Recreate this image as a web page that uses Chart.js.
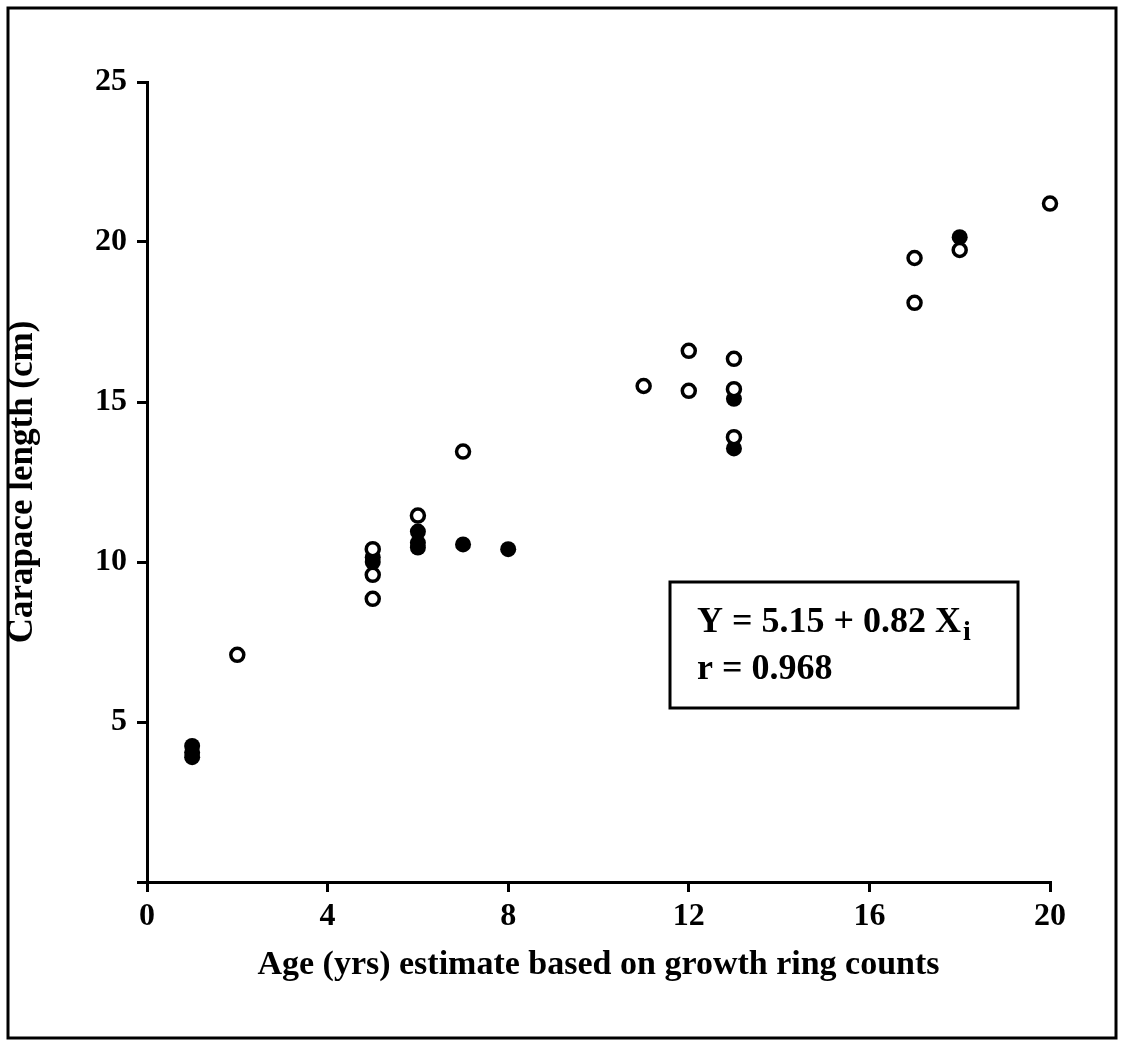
<!DOCTYPE html>
<html>
<head>
<meta charset="utf-8">
<title>Carapace length vs age</title>
<script src="https://cdn.jsdelivr.net/npm/chart.js@4.4.0/dist/chart.umd.min.js"></script>
<style>
    html, body { margin: 0; padding: 0; background: #fff; }
    #wrap { width: 1123px; height: 1046px; position: relative; }
</style>
</head>
<body>
<div id="wrap"><canvas id="chart-edad"></canvas></div>
<script>
// Datos (edad en años, largo del caparazón en cm)
const edadAbiertos = [2, 5, 5, 5, 6, 7, 11, 12, 12, 13, 13, 13, 17, 17, 18, 20];
const largoAbiertos = [7.1, 10.4, 9.6, 8.85, 11.45, 13.45, 15.5, 16.6, 15.35, 16.35, 15.4, 13.9, 19.5, 18.1, 19.75, 21.2];

const edadRellenos = [1, 1, 1, 5, 5, 6, 6, 6, 7, 8, 13, 13, 18];
const largoRellenos = [4.25, 4.05, 3.9, 10.15, 10.0, 10.95, 10.6, 10.45, 10.55, 10.4, 15.1, 13.55, 20.15];

const ticksX = [0, 4, 8, 12, 16, 20];
const ticksY = [0, 5, 10, 15, 20, 25];

const tituloX = 'Age (yrs) estimate based on growth ring counts';
const tituloY = 'Carapace length (cm)';
const ecuacion = 'Y = 5.15 + 0.82 X';
const coefR = 'r = 0.968';

const fuente = '"Liberation Serif", "DejaVu Serif", serif';

function aPuntos(xs, ys) {
    return xs.map((x, i) => ({ x: x, y: ys[i] }));
}

/**
 * Marco exterior y recuadro con la ecuación
 */
const marcoPlugin = {
    id: 'marco',
    afterDraw(chart) {
        const ctx = chart.ctx;
        ctx.save();
        ctx.strokeStyle = '#000';
        ctx.lineWidth = 3;
        ctx.strokeRect(8, 8, 1108, 1030);

        // recuadro de la ecuación
        ctx.strokeRect(670, 582, 348, 126);
        ctx.fillStyle = '#000';
        ctx.font = `bold 36px ${fuente}`;
        ctx.textBaseline = 'alphabetic';
        ctx.fillText(ecuacion, 697, 632);
        const w = ctx.measureText(ecuacion).width;
        ctx.font = `bold 28px ${fuente}`;
        ctx.fillText('i', 697 + w + 2, 640);
        ctx.font = `bold 36px ${fuente}`;
        ctx.fillText(coefR, 697, 679);
        ctx.restore();
    }
};

const ctx = document.getElementById('chart-edad');

new Chart(ctx, {
    type: 'scatter',
    data: {
        datasets: [
            {
                label: 'abiertos',
                data: aPuntos(edadAbiertos, largoAbiertos),
                clip: false,
                pointStyle: 'circle',
                pointRadius: 6.5,
                pointBorderWidth: 3.5,
                pointBackgroundColor: '#fff',
                pointBorderColor: '#000'
            },
            {
                label: 'rellenos',
                data: aPuntos(edadRellenos, largoRellenos),
                clip: false,
                pointStyle: 'circle',
                pointRadius: 8,
                pointBorderWidth: 0,
                pointBackgroundColor: '#000',
                pointBorderColor: '#000'
            }
        ]
    },
    options: {
        responsive: true,
        maintainAspectRatio: false,
        animation: false,
        layout: {
            padding: { left: 0, top: 82, right: 73, bottom: 0 }
        },
        plugins: {
            legend: { display: false },
            tooltip: { enabled: false }
        },
        scales: {
            x: {
                type: 'linear',
                min: 0,
                max: 20,
                afterBuildTicks: (scale) => { scale.ticks = ticksX.map(v => ({ value: v })); },
                afterFit: (scale) => { scale.height = 164; },
                border: { display: true, color: '#000', width: 3 },
                grid: { drawOnChartArea: false, drawTicks: true, tickLength: 10, color: '#000', lineWidth: 3 },
                ticks: {
                    color: '#000',
                    padding: 6,
                    maxRotation: 0,
                    font: { family: fuente, size: 32, weight: 'bold' }
                },
                title: {
                    display: true,
                    text: tituloX,
                    color: '#000',
                    padding: { top: 0, bottom: 60 },
                    font: { family: fuente, size: 34, weight: 'bold' }
                }
            },
            y: {
                type: 'linear',
                min: 0,
                max: 25,
                afterBuildTicks: (scale) => { scale.ticks = ticksY.map(v => ({ value: v })); },
                afterFit: (scale) => { scale.width = 147; },
                border: { display: true, color: '#000', width: 3 },
                grid: { drawOnChartArea: false, drawTicks: true, tickLength: 10, color: '#000', lineWidth: 3 },
                ticks: {
                    color: '#000',
                    padding: 10,
                    font: { family: fuente, size: 32, weight: 'bold' },
                    callback: (v) => v === 0 ? '' : v
                },
                title: {
                    display: true,
                    text: tituloY,
                    color: '#000',
                    padding: { top: 2, bottom: 0 },
                    font: { family: fuente, size: 35, weight: 'bold' }
                }
            }
        }
    },
    plugins: [marcoPlugin]
});
</script>
</body>
</html>
